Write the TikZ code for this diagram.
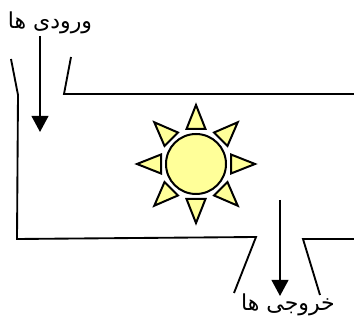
\documentclass[tikz,border=0pt]{standalone}
\usepackage{fontspec}
\usetikzlibrary{arrows.meta}
\newfontfamily\arabicfont[Script=Arabic]{DejaVu Sans}
\TeXXeTstate=1
\definecolor{sunyellow}{HTML}{FFFF99}
\begin{document}
\begin{tikzpicture}[x=0.75pt,y=-0.75pt,
  wall/.style={draw=black,line width=1.4pt},
  flow/.style={draw=black,line width=1.5pt,-{Triangle[length=12pt,width=12.5pt]}},
  ray/.style={draw=black,fill=sunyellow,line width=1.5pt,line join=miter},
  sun/.style={circle,draw=black,fill=sunyellow,line width=1.5pt,minimum size=45pt,inner sep=0pt},
  lbl/.style={font=\arabicfont\fontsize{16.5}{18}\selectfont,inner sep=0pt}]
  \useasboundingbox (0,0) rectangle (354,320);
  % walls of the duct
  \coordinate (a1) at (11,59);
  \coordinate (a2) at (18,95);
  \coordinate (a3) at (17,239);
  \coordinate (a4) at (256,237);
  \coordinate (a5) at (234,293);
  \coordinate (b1) at (71,57);
  \coordinate (b2) at (64,94);
  \coordinate (b3) at (354,94);
  \coordinate (c1) at (354,239);
  \coordinate (c2) at (303,239);
  \coordinate (c3) at (320,295);
  \draw[wall] (a1)--(a2)--(a3)--(a4)--(a5);
  \draw[wall] (b1)--(b2)--(b3);
  \draw[wall] (c1)--(c2)--(c3);
  % flow arrows
  \coordinate (in1) at (40,36);
  \coordinate (in2) at (40,132);
  \coordinate (out1) at (280,200);
  \coordinate (out2) at (280,296);
  \draw[flow] (in1)--(in2);
  \draw[flow] (out1)--(out2);
  % sun
  \node[sun] (s0) at (196,164) {};
  \foreach \a in {0,45,...,315}
    \draw[ray,shift={(s0.center)},rotate=\a] (35,-9.5)--(59,0)--(35,9.5)--cycle;
  % labels
  \node[lbl] (lin) at (50,23) {\beginR ورودی ها\endR};
  \node[lbl] (lout) at (288,305) {\beginR خروجی ها\endR};
\end{tikzpicture}
\end{document}
